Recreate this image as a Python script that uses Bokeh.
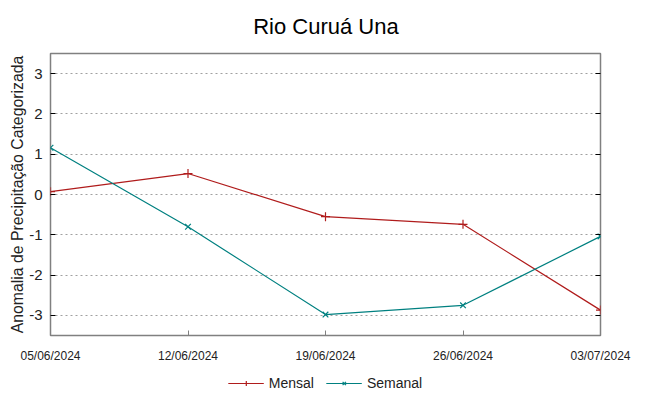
import pandas as pd
from bokeh.plotting import figure
from bokeh.layouts import column
from bokeh.models import (FixedTicker, Range1d, Legend, LegendItem, Label,
                          LinearAxis)
from bokeh.embed import file_html
from bokeh.resources import INLINE

title = "Rio Curuá Una"
y_label = "Anomalia de Precipitação Categorizada"
dates = ["05/06/2024", "12/06/2024", "19/06/2024", "26/06/2024", "03/07/2024"]
mensal = [0.07, 0.52, -0.55, -0.74, -2.87]
semanal = [1.16, -0.80, -2.98, -2.75, -1.04]
y_ticks = [-3, -2, -1, 0, 1, 2, 3]
series_names = ["Mensal", "Semanal"]

FONT = "Liberation Sans"
RED = "#b01c1c"
TEAL = "#008080"
W = 649
HEAD_H = 51


def bare(fig):
    fig.grid.visible = False
    fig.outline_line_color = None
    fig.title.visible = False
    return fig


d = pd.to_datetime(dates, format="%d/%m/%Y")
x = [int((v - d[0]).days) for v in d]

# ---- header strip with the title
head = bare(figure(width=W, height=HEAD_H, output_backend="svg",
                   toolbar_location=None,
                   x_range=Range1d(0, W), y_range=Range1d(0, HEAD_H),
                   x_axis_location=None, y_axis_location=None,
                   min_border_left=0, min_border_right=0, min_border_top=0,
                   min_border_bottom=0))
head.add_layout(Label(x=325, y=HEAD_H - 26, text=title,
                      text_align="center", text_baseline="alphabetic",
                      text_font=FONT, text_font_size="22px",
                      text_color="#000000"))

# ---- main chart
p = figure(width=W, height=321, output_backend="svg", toolbar_location=None,
           x_range=Range1d(x[0], x[-1]), y_range=Range1d(-3.5, 3.5),
           min_border_left=50, min_border_right=49, min_border_top=2,
           min_border_bottom=37)
p.title.visible = False

p.outline_line_color = "#808080"
p.outline_line_width = 1.5
p.background_fill_color = "white"
p.border_fill_color = "white"

p.xgrid.visible = False
p.ygrid.ticker = FixedTicker(ticks=y_ticks)
p.ygrid.grid_line_color = "#a0a0a0"
p.ygrid.grid_line_dash = "2 3"
p.ygrid.grid_line_width = 1

p.xaxis.ticker = FixedTicker(ticks=x)
p.xaxis.major_label_overrides = {v: s for v, s in zip(x, dates)}
p.xaxis.major_label_text_font = FONT
p.xaxis.major_label_text_font_size = "12px"
p.xaxis.major_label_text_color = "#222222"
p.xaxis.major_label_standoff = 13
p.xaxis.axis_line_color = None
p.xaxis.major_tick_in = 5
p.xaxis.major_tick_out = 0
p.xaxis.major_tick_line_color = "#808080"
p.xaxis.minor_tick_line_color = None

p.yaxis.ticker = FixedTicker(ticks=y_ticks)
p.yaxis.major_label_overrides = {t: str(t) for t in y_ticks}
p.yaxis.major_label_text_font = FONT
p.yaxis.major_label_text_font_size = "15px"
p.yaxis.major_label_text_color = "#222222"
p.yaxis.major_label_standoff = 8
p.yaxis.axis_line_color = None
p.yaxis.major_tick_in = 5
p.yaxis.major_tick_out = 0
p.yaxis.major_tick_line_color = "#000000"
p.yaxis.minor_tick_line_color = None
p.yaxis.axis_label = y_label
p.yaxis.axis_label_text_font = FONT
p.yaxis.axis_label_text_font_size = "15.8px"
p.yaxis.axis_label_text_font_style = "normal"
p.yaxis.axis_label_text_color = "#222222"
p.yaxis.axis_label_standoff = 0

rax = LinearAxis(ticker=FixedTicker(ticks=y_ticks), axis_line_color=None,
                 major_tick_in=5, major_tick_out=0, minor_tick_line_color=None,
                 major_tick_line_color="#000000",
                 major_label_text_color=None)
p.add_layout(rax, "right")

p.line(x, mensal, line_color=RED, line_width=1.2)
p.scatter(x, mensal, marker="cross", size=9, line_color=RED, line_width=1.2)
p.line(x, semanal, line_color=TEAL, line_width=1.2)
p.scatter(x, semanal, marker="x", size=8, line_color=TEAL, line_width=1.2)

# ---- legend strip below the chart (series drawn out of view, only legend shows)
leg = bare(figure(width=W, height=22, output_backend="svg",
                  toolbar_location=None,
                  x_range=Range1d(x[0], x[-1]), y_range=Range1d(100, 101),
                  x_axis_location=None, y_axis_location=None,
                  min_border_left=0, min_border_right=0, min_border_top=0,
                  min_border_bottom=0))
la = leg.line(x, mensal, line_color=RED, line_width=1.2)
lb = leg.scatter(x, mensal, marker="cross", size=9, line_color=RED, line_width=1.2)
lc = leg.line(x, semanal, line_color=TEAL, line_width=1.2)
ld = leg.scatter(x, semanal, marker="x", size=9, line_color=TEAL, line_width=1.2)

legend = Legend(items=[LegendItem(label=series_names[0], renderers=[la, lb]),
                       LegendItem(label=series_names[1], renderers=[lc, ld])],
                orientation="horizontal", location="center",
                label_text_font=FONT, label_text_font_size="14px",
                label_text_color="#222222",
                glyph_width=36, glyph_height=12, label_height=12,
                padding=1, margin=0, spacing=12,
                border_line_color=None, background_fill_alpha=0)
leg.add_layout(legend, "center")

layout = column(head, p, leg, spacing=0)
open("out.html", "w").write(file_html(layout, INLINE))
